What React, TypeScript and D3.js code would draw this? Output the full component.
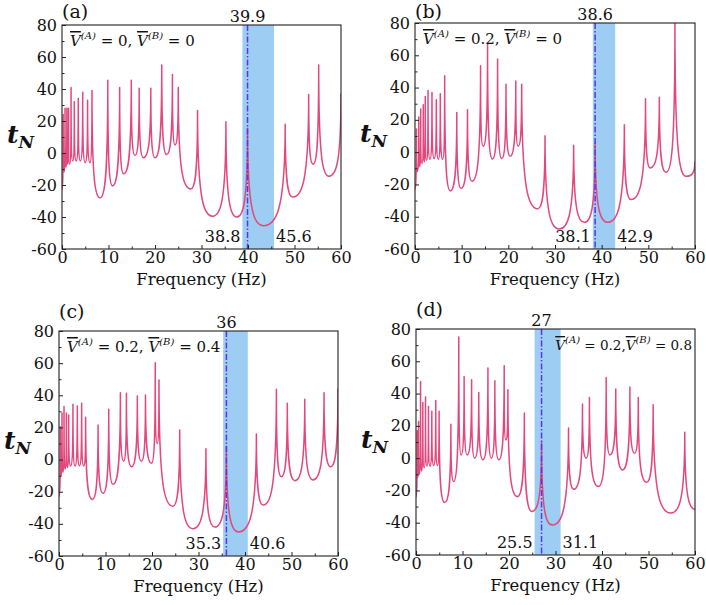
import React, { useEffect, useRef } from "react";
import * as d3 from "d3";

type Pt = [number, number];

// key points of each curve (frequency in Hz, t_N), alternating valley / peak
const curveA: Pt[] = [
  [0, -23], [0.25, 24], [0.45, -12], [0.65, 28], [0.85, -9], [1.05, 28], [1.22, -7], [1.4, 28],
  [1.65, -7], [1.95, 41], [2.3, -5], [2.65, 32], [3.05, -5], [3.5, 34], [3.95, -5], [4.45, 38],
  [5.0, -6], [5.5, 33], [6.0, -6], [6.45, 39], [8.2, -28], [9.85, 45.5], [10.85, -20.5],
  [12.4, 41], [13.25, -13], [14.9, 45.5], [15.7, -1.5], [16.6, 40.5], [17.5, -3], [19.1, 40.5],
  [20.0, -3], [21.45, 55], [22.5, -1], [23.75, 49], [24.3, 5], [25.0, 41], [27.7, -22.5],
  [29.15, 26.5], [32.4, -39.5], [35.25, 19.5], [37.6, -40], [39.9, 15.5], [43.3, -45.5],
  [48.0, 18], [49.6, -27.5], [53.05, 36.5], [54.0, -7], [55.2, 55], [57.4, -14.5], [60, 37],
];

const curveB: Pt[] = [
  [0, -23], [0.29, 14.3], [0.5, -12], [0.8, 21.8], [1.0, -9], [1.22, 26.7], [1.5, -7], [1.78, 29.4],
  [2.0, -6], [2.2, 34.5], [2.5, -5], [2.79, 38.2], [3.2, -4.5], [3.64, 37], [4.1, -4], [4.57, 32.5],
  [5.0, -4.5], [5.42, 36.2], [5.9, -4.5], [6.36, 47.4], [7.57, -24], [8.95, 24.5], [9.86, -22.5],
  [11.25, 26.3], [12.2, -18], [14.05, 53.5], [14.6, 3.6], [15.55, 67], [16.6, -4.2], [17.7, 57.7],
  [18.6, -4], [19.5, 42], [20.4, -2.6], [21.6, 44], [22.1, 3.6], [22.86, 42], [26.3, -35],
  [27.86, 10.2], [30.9, -47.6], [34.0, 4.2], [36.3, -43.5], [38.6, 5.7], [41.3, -43.5],
  [44.86, 17], [46.3, -29.4], [49.4, 33], [50.4, -9.8], [52.36, 34], [53.8, -12.5], [55.7, 80],
  [58.1, -15], [60, -5.7],
];

const curveC: Pt[] = [
  [0, -23], [0.29, 20.5], [0.45, -10], [0.65, 29], [0.85, -8], [1.08, 33], [1.3, -6], [1.58, 29],
  [1.8, -5], [2.08, 27.7], [2.5, -4], [3.0, 34.4], [3.45, -4], [3.94, 33.3], [4.4, -4], [4.87, 35],
  [5.3, -4], [5.73, 26.3], [7.17, -24.8], [8.4, 21.5], [9.46, -21], [10.7, 31.3], [11.6, -15.4],
  [13.2, 41.6], [13.9, -1], [14.5, 41.2], [15.6, -4.4], [16.85, 39.6], [17.7, -1], [18.6, 40.2],
  [19.9, -2.3], [20.7, 60.3], [21.1, 10], [21.5, 49.5], [24.5, -29], [25.96, 18.4], [28.8, -43],
  [31.6, 6.7], [33.5, -42], [36.0, 8.3], [38.6, -45], [42.45, 15.9], [43.9, -28.3], [46.75, 43.7],
  [47.8, -10.7], [49.1, 35], [50.7, -13.1], [52.85, 37.5], [54.6, -12.7], [57.0, 41.6],
  [58.4, -4.4], [60, 44.3],
];

const curveD: Pt[] = [
  [0, -24], [0.25, 17], [0.4, -12], [0.55, 22.7], [0.75, -10], [0.98, 47.5], [1.2, -8], [1.47, 34.5],
  [1.75, -6], [2.05, 37.8], [2.35, -5], [2.68, 32], [3.0, -5], [3.4, 29], [3.8, -4.5], [4.25, 35.7],
  [4.6, -4.5], [4.97, 29], [6.16, -27.5], [7.5, 21], [8.1, -14.5], [9.2, 75], [9.7, 2],
  [10.35, 50.6], [11.0, 2], [11.96, 48.5], [12.6, 0], [13.5, 40.7], [14.4, -1], [15.47, 55.8],
  [16.2, 0], [16.96, 48], [17.8, -1], [18.97, 57.3], [19.3, 11.3], [19.76, 42.4], [21.8, -23.8],
  [23.3, 28], [24.9, -33], [27.0, 10.3], [29.3, -41.4], [32.8, 18.6], [33.9, -19.3], [35.8, 33.5],
  [36.6, 0], [37.3, 37.6], [39.2, -17.6], [40.9, 50], [41.7, 2], [42.96, 42.8], [44.4, -7.3],
  [46.0, 44], [47.0, 3], [47.8, 37.6], [49.6, -15], [51.0, 33], [54.8, -34], [57.8, 16],
  [60, -31.7],
];

const curves = [curveA, curveB, curveC, curveD];
const panelTags = ["(a)", "(b)", "(c)", "(d)"];
const vA = ["0", "0.2", "0.2", "0.2"];
const vB = ["0", "0", "0.4", "0.8"];
const markFreq = [39.9, 38.6, 36, 27];
const bandLow = [38.8, 38.1, 35.3, 25.5];
const bandHigh = [45.6, 42.9, 40.6, 31.1];
const xTicks = [0, 10, 20, 30, 40, 50, 60];
const xMinor = [5, 15, 25, 35, 45, 55];
const yTicks = [-60, -40, -20, 0, 20, 40, 60, 80];
const yMinor = [-50, -30, -10, 10, 30, 50, 70];

// plot boxes of the four panels
const boxes = [
  { x: 62, y: 25, w: 279, h: 224 },
  { x: 415, y: 23, w: 280, h: 226 },
  { x: 59, y: 331, w: 279, h: 225 },
  { x: 416, y: 329, w: 279, h: 226 },
];

const FONT = '"DejaVu Serif", "Liberation Serif", "Times New Roman", serif';
const LINE_COLOR = "#e4477b";
const K1 = 0.55;
const K2 = 0.12;

// sharp resonance spikes: vertical tangent at peaks, flat at valleys
function cuspCurve(context: any) {
  let pts: Pt[] = [];
  return {
    areaStart() {},
    areaEnd() {},
    lineStart() {
      pts = [];
    },
    point(x: number, y: number) {
      pts.push([+x, +y]);
    },
    lineEnd() {
      if (!pts.length) return;
      context.moveTo(pts[0][0], pts[0][1]);
      for (let i = 1; i < pts.length; i++) {
        const [x0, y0] = pts[i - 1];
        const [x1, y1] = pts[i];
        const dx = x1 - x0;
        if (y1 < y0) {
          context.bezierCurveTo(x0 + K1 * dx, y0, x1, y0 + K2 * (y1 - y0), x1, y1);
        } else {
          context.bezierCurveTo(x0, y1 + K2 * (y0 - y1), x1 - K1 * dx, y1, x1, y1);
        }
      }
    },
  };
}

function App(): JSX.Element {
  const svgRef = useRef<SVGSVGElement>(null);

  useEffect(() => {
    const svg = d3.select(svgRef.current);
    svg.selectAll("*").remove();

    boxes.forEach((b, i) => {
      const x = d3.scaleLinear().domain([0, 60]).range([b.x, b.x + b.w]);
      const y = d3.scaleLinear().domain([-60, 80]).range([b.y + b.h, b.y]);
      const g = svg.append("g");

      const clipId = `clip-${i}`;
      svg
        .append("clipPath")
        .attr("id", clipId)
        .append("rect")
        .attr("x", b.x)
        .attr("y", b.y)
        .attr("width", b.w)
        .attr("height", b.h);

      // band
      g.append("rect")
        .attr("x", x(bandLow[i]))
        .attr("y", b.y)
        .attr("width", x(bandHigh[i]) - x(bandLow[i]))
        .attr("height", b.h)
        .attr("fill", "#9dcdf2");

      // curve
      const line = d3
        .line<Pt>()
        .x((d) => x(d[0]))
        .y((d) => y(d[1]))
        .curve(cuspCurve as any);
      g.append("path")
        .datum(curves[i])
        .attr("clip-path", `url(#${clipId})`)
        .attr("fill", "none")
        .attr("stroke", LINE_COLOR)
        .attr("stroke-width", 1.5)
        .attr("stroke-linejoin", "round")
        .attr("d", line);

      // dash-dot marker
      g.append("line")
        .attr("x1", x(markFreq[i]))
        .attr("x2", x(markFreq[i]))
        .attr("y1", b.y)
        .attr("y2", b.y + b.h)
        .attr("stroke", "#5b34e6")
        .attr("stroke-width", 1.5)
        .attr("stroke-dasharray", "6,2,1.5,2");

      // axes with inward ticks
      const fmt = (d: d3.NumberValue) => String(d);
      const ax = g
        .append("g")
        .attr("transform", `translate(0,${b.y + b.h})`)
        .call(d3.axisBottom(x).tickValues(xTicks).tickSize(-4).tickSizeOuter(0).tickPadding(3).tickFormat(fmt));
      const axm = g
        .append("g")
        .attr("transform", `translate(0,${b.y + b.h})`)
        .call(d3.axisBottom(x).tickValues(xMinor).tickSize(-2.5).tickSizeOuter(0).tickFormat(() => ""));
      const ay = g
        .append("g")
        .attr("transform", `translate(${b.x},0)`)
        .call(d3.axisLeft(y).tickValues(yTicks).tickSize(-4).tickSizeOuter(0).tickPadding(5).tickFormat(fmt));
      const aym = g
        .append("g")
        .attr("transform", `translate(${b.x},0)`)
        .call(d3.axisLeft(y).tickValues(yMinor).tickSize(-2.5).tickSizeOuter(0).tickFormat(() => ""));
      [ax, axm, ay, aym].forEach((a) => {
        a.attr("font-family", null).attr("font-size", null);
        a.select(".domain").remove();
        a.selectAll("line").attr("stroke", "#222").attr("stroke-width", 1);
        a.selectAll("text").attr("fill", "#111").style("font-family", FONT).style("font-size", "16px");
      });

      // frame
      g.append("rect")
        .attr("x", b.x)
        .attr("y", b.y)
        .attr("width", b.w)
        .attr("height", b.h)
        .attr("fill", "none")
        .attr("stroke", "#222")
        .attr("stroke-width", 1.1);

      const txt = (tx: number, ty: number, s: string, size: number, anchor = "start") =>
        g
          .append("text")
          .attr("x", tx)
          .attr("y", ty)
          .attr("text-anchor", anchor)
          .style("font-family", FONT)
          .style("font-size", `${size}px`)
          .attr("fill", "#111")
          .text(s);

      txt(b.x, i < 2 ? 18 : b.y - 13, panelTags[i], 19);
      txt(x(markFreq[i]), b.y - 3, String(markFreq[i]), 16, "middle");
      txt(x(bandLow[i]) - 2, b.y + b.h - 7, String(bandLow[i]), 16, "end");
      txt(x(bandHigh[i]) + 2, b.y + b.h - 7, String(bandHigh[i]), 16, "start");
      txt(b.x + b.w / 2, b.y + b.h + 36, "Frequency (Hz)", 16.5, "middle");

      // y label t_N
      const yl = g
        .append("text")
        .attr("x", b.x - 55)
        .attr("y", b.y + b.h * 0.525)
        .style("font-family", FONT)
        .style("font-style", "italic")
        .style("font-weight", "bold")
        .attr("fill", "#111");
      yl.append("tspan").style("font-size", "25px").text("t");
      yl.append("tspan").style("font-size", "17px").attr("dy", 5).text("N");

      // V^(A), V^(B) annotation
      const right = i === 3;
      const an = g
        .append("text")
        .attr("x", right ? b.x + b.w - 3 : b.x + 8)
        .attr("y", b.y + 21)
        .attr("text-anchor", right ? "end" : "start")
        .style("font-family", FONT)
        .style("font-size", right ? "13.5px" : "15px")
        .attr("fill", "#111");
      const vTerm = (label: string, value: string, tail: string) => {
        an.append("tspan")
          .style("font-style", "italic")
          .style("text-decoration", "overline")
          .text("V");
        an.append("tspan")
          .style("font-style", "italic")
          .style("font-size", "10px")
          .attr("dy", -7)
          .text(`(${label})`);
        an.append("tspan").attr("dy", 7).text(` = ${value}${tail}`);
      };
      vTerm("A", vA[i], i === 3 ? "," : ", ");
      vTerm("B", vB[i], "");
    });
  }, []);

  return (
    <svg
      ref={svgRef}
      width={706}
      height={605}
      style={{ position: "absolute", left: 0, top: 0, background: "white" }}
    />
  );
}

export default App;
